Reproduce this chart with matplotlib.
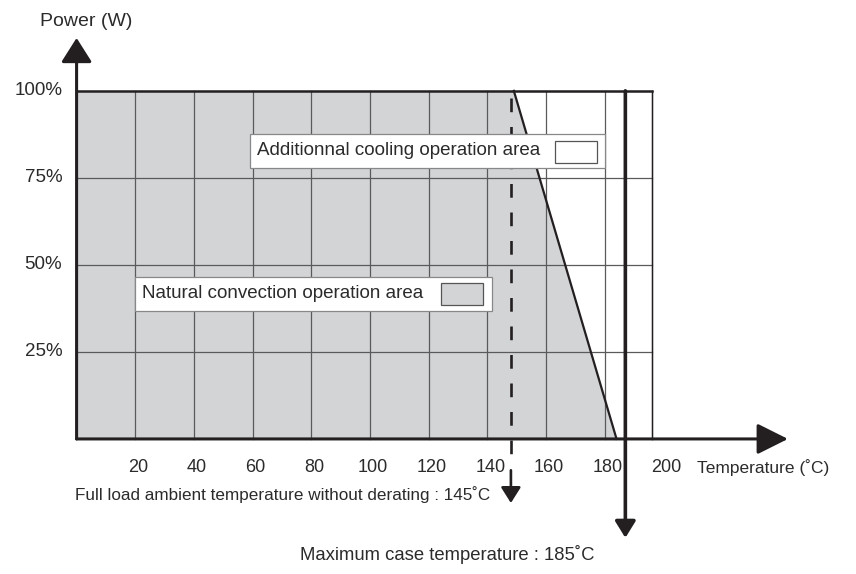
import numpy as np
import matplotlib.pyplot as plt

plt.rcParams['font.family'] = ['Liberation Sans', 'DejaVu Sans']

# --- Data ---
temp_ticks = [20, 40, 60, 80, 100, 120, 140, 160, 180, 200]
grid_x = [0, 20, 40, 60, 80, 100, 120, 140, 160, 180, 196]
power_ticks = [25, 50, 75, 100]
power_labels = ['25%', '50%', '75%', '100%']

# derating curve (temperature, power %)
derate_t = [0, 149, 184]
derate_p = [100, 100, 0]

full_load_t = 148     # dashed marker
max_case_t = 187      # solid marker

INK = '#231f20'
TXT = '#2b2b2b'
GRAY = '#d3d4d6'
GRID = '#5a5a5a'

# --- Figure: one axes covering the whole canvas ---
fig = plt.figure(figsize=(8.56, 5.74), dpi=100)
ax = fig.add_axes([0, 0, 1, 1])
ax.set_xlim(-26.1, 265.6)
ax.set_ylim(-38.8, 126.1)
ax.axis('off')

# shaded natural convection area
ax.fill(derate_t + [derate_t[-1], 0], derate_p + [0, 0], color=GRAY, lw=0, zorder=1)

# grid
for gx in grid_x[1:]:
    ax.plot([gx, gx], [0, 100], color=GRID, lw=0.9, zorder=2)
for gy in power_ticks[:-1]:
    ax.plot([0, grid_x[-1]], [gy, gy], color=GRID, lw=0.9, zorder=2)
ax.plot([0, grid_x[-1]], [100, 100], color=INK, lw=1.8, zorder=3)
ax.plot([grid_x[-1], grid_x[-1]], [0, 100], color=INK, lw=1.0, zorder=3)

# derating slope
ax.plot(derate_t[1:], derate_p[1:], color=INK, lw=1.6, zorder=4)

# axes with arrows
ax.annotate('', xy=(0, 115.2), xytext=(0, 0),
            arrowprops=dict(arrowstyle='-|>,head_length=1.5,head_width=0.95',
                            lw=2.2, color=INK, shrinkA=0, shrinkB=0), zorder=5)
ax.annotate('', xy=(242.4, 0), xytext=(0, 0),
            arrowprops=dict(arrowstyle='-|>,head_length=1.9,head_width=0.95',
                            lw=2.2, color=INK, shrinkA=0, shrinkB=0), zorder=5)

# full load temperature (dashed)
ax.plot([full_load_t, full_load_t], [98, -8], color=INK, lw=1.9,
        dashes=(5.2, 5.6), zorder=5, clip_on=False)
ax.annotate('', xy=(full_load_t, -18.4), xytext=(full_load_t, -9),
            arrowprops=dict(arrowstyle='-|>,head_length=0.95,head_width=0.6',
                            lw=1.9, color=INK, shrinkA=0, shrinkB=0), zorder=5)

# maximum case temperature (solid)
ax.annotate('', xy=(max_case_t, -28.4), xytext=(max_case_t, 100),
            arrowprops=dict(arrowstyle='-|>,head_length=1.0,head_width=0.62',
                            lw=2.6, color=INK, shrinkA=0, shrinkB=0), zorder=6)

# tick labels
for t in temp_ticks:
    ax.text(t + 1.0, -8.3, str(t), ha='center', va='center', fontsize=13, color=TXT)
for p, lab in zip(power_ticks, power_labels):
    ax.text(-4.9, p, lab, ha='right', va='center', fontsize=13.5, color=TXT)

ax.text(-12.5, 120.0, 'Power (W)', ha='left', va='center', fontsize=14, color=TXT)
ax.text(211.4, -8.3, 'Temperature (\u02daC)', ha='left', va='center', fontsize=12.5, color=TXT)
ax.text(-0.5, -16.1, 'Full load ambient temperature without derating : 145\u02daC',
        ha='left', va='center', fontsize=12.3, color=TXT)
ax.text(76.2, -33.3, 'Maximum case temperature : 185\u02daC',
        ha='left', va='center', fontsize=13.3, color=TXT)

# legend-like boxes
def label_box(x0, x1, y0, y1, sx0, sx1, sy0, sy1, text, tx, swatch):
    ax.add_patch(plt.Rectangle((x0, y0), x1 - x0, y1 - y0, facecolor='white',
                               edgecolor='#888888', lw=0.9, zorder=7))
    ax.add_patch(plt.Rectangle((sx0, sy0), sx1 - sx0, sy1 - sy0, facecolor=swatch,
                               edgecolor='#555555', lw=0.9, zorder=8))
    ax.text(tx, (y0 + y1) / 2, text, ha='left', va='center', fontsize=13.5,
            color=TXT, zorder=8)

label_box(59.1, 180.0, 77.9, 87.6, 163.0, 177.3, 79.4, 85.6,
          'Additionnal cooling operation area', 61.6, 'white')
label_box(19.9, 141.5, 36.8, 46.6, 124.1, 138.4, 38.5, 44.8,
          'Natural convection operation area', 22.3, GRAY)

fig.savefig('out.png', dpi=100)
